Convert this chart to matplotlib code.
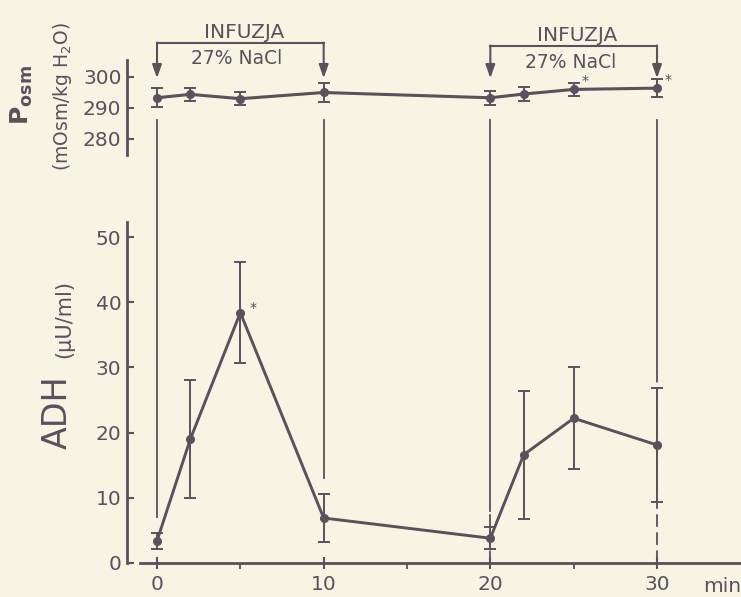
import matplotlib
matplotlib.use("Agg")
import matplotlib.pyplot as plt
import numpy as np

plt.rcParams['font.family'] = ['DejaVu Sans']

# ---- data ----
time_min = [0, 2, 5, 10, 20, 22, 25, 30]
adh_mean = [3.4, 19.0, 38.4, 6.9, 3.8, 16.6, 22.2, 18.1]
adh_err = [1.2, 9.0, 7.8, 3.7, 1.7, 9.8, 7.8, 8.7]
posm_mean = [293.3, 294.4, 293.0, 295.0, 293.3, 294.5, 296.0, 296.4]
posm_err = [3.0, 2.2, 2.0, 3.0, 2.2, 2.2, 2.0, 2.8]
adh_signif = [5]
posm_signif = [25, 30]
infusion_periods = [(0, 10), (20, 30)]
infusion_title = "INFUZJA"
infusion_label = "27% NaCl"
adh_ticks = [0, 10, 20, 30, 40, 50]
posm_ticks = [280, 290, 300]
time_ticks = [0, 10, 20, 30]
time_minor = [5, 15, 25]

BG = "#f7f4e3"
INK = "#57525c"
FS = 14.5

fig = plt.figure(figsize=(7.41, 5.97), dpi=100, facecolor=BG)

# axes geometry in pixels
W, H = 741, 597
x0px, px_per_min = 157, 16.667
left_px = 127
xlim = ((left_px - x0px) / px_per_min, (W - x0px) / px_per_min)

ax = fig.add_axes([left_px / W, (H - 563) / H, (W - left_px) / W, 341 / H])
ax.set_facecolor("none")
ax.set_xlim(*xlim)
ax.set_ylim(0, 341 / 6.52)

axp = fig.add_axes([left_px / W, (H - 155) / H, (W - left_px) / W, 95 / H])
axp.set_facecolor("none")
axp.set_xlim(*xlim)
axp.set_ylim(280 - 16 / 3.1, 300 + 17 / 3.1)

for a in (ax, axp):
    for s in ("top", "right"):
        a.spines[s].set_visible(False)
    a.spines["left"].set_color(INK)
    a.spines["left"].set_linewidth(2.0)
axp.spines["bottom"].set_visible(False)
ax.spines["bottom"].set_color(INK)
ax.spines["bottom"].set_linewidth(2.0)
ax.spines["bottom"].set_bounds(-1.0, xlim[1])

ax.set_yticks(adh_ticks)
ax.set_xticks(time_ticks)
ax.set_xticks(time_minor, minor=True)
ax.tick_params(axis="y", direction="in", length=5, width=1.5, color=INK,
               labelcolor=INK, labelsize=FS, pad=4)
ax.tick_params(axis="x", which="major", direction="inout", length=9, width=1.5,
               color=INK, labelcolor=INK, labelsize=FS, pad=4)
ax.tick_params(axis="x", which="minor", direction="out", length=4, width=1.3,
               color=INK)
axp.set_yticks(posm_ticks)
axp.set_xticks([])
axp.tick_params(axis="y", direction="in", length=5, width=1.5, color=INK,
                labelcolor=INK, labelsize=FS, pad=4)

t = np.array(time_min)
adh_m = np.array(adh_mean)
adh_e = np.array(adh_err)

# vertical guide lines at infusion start/end
ytop_adh = (563 - 120) / 6.52
for (s, e) in infusion_periods:
    for xv in (s, e):
        i = time_min.index(xv)
        ybot = adh_m[i] + adh_e[i] + 2.5
        ax.plot([xv, xv], [ybot, ytop_adh], color=INK, lw=1.3,
                clip_on=False, zorder=2)
for xv in (20, 30):
    i = time_min.index(xv)
    ax.plot([xv, xv], [0, adh_m[i] + adh_e[i] + 2.5], color=INK, lw=1.3,
            ls=(0, (7, 3)), zorder=2)

# ADH series
ax.errorbar(t, adh_m, yerr=adh_e, fmt="o-", color=INK, lw=2.1, ms=5.5,
            elinewidth=1.4, capsize=4, capthick=1.4, zorder=4, clip_on=False)
for xs in adh_signif:
    i = time_min.index(xs)
    ax.annotate("*", (xs, adh_m[i]), xytext=(9, 3), textcoords="offset points",
                color=INK, fontsize=10, ha="center", va="center")

# Posm series
axp.errorbar(t, posm_mean, yerr=posm_err, fmt="o-", color=INK, lw=2.2, ms=5.5,
             elinewidth=1.4, capsize=4, capthick=1.4, zorder=4, clip_on=False)
for xs in posm_signif:
    i = time_min.index(xs)
    axp.annotate("*", (xs, posm_mean[i]), xytext=(8, 6),
                 textcoords="offset points", color=INK, fontsize=10,
                 ha="center", va="center")

# infusion brackets
bracket_y = [311.0, 310.1]
title_y = [314.5, 313.5]
label_y = [306.1, 304.8]
for k, (s, e) in enumerate(infusion_periods):
    yb = bracket_y[k]
    axp.plot([s, e], [yb, yb], color=INK, lw=1.5, clip_on=False)
    for xv in (s, e):
        axp.annotate("", xy=(xv, 299.6), xytext=(xv, yb + 0.1),
                     arrowprops=dict(arrowstyle="-|>,head_length=0.8,head_width=0.28",
                                     color=INK, lw=1.5, shrinkA=0, shrinkB=0),
                     annotation_clip=False)
    axp.text((s + e) / 2 + 0.2, title_y[k], infusion_title, color=INK,
             fontsize=14.5, ha="center", va="center", clip_on=False)
    axp.text((s + e) / 2 - 0.2, label_y[k], infusion_label, color=INK,
             fontsize=13.5, ha="center", va="center", clip_on=False)

# axis labels
fig.text(22 / W, 1 - 95 / H, r"P$_{\mathregular{osm}}$", rotation=90, color=INK,
         fontsize=18, ha="center", va="center", fontweight="bold")
fig.text(63 / W, 1 - 96 / H, r"(mOsm/kg H$_{\mathregular{2}}$O)", rotation=90,
         color=INK, fontsize=13.5, ha="center", va="center")
fig.text(57 / W, 1 - 412 / H, "ADH", rotation=90, color=INK, fontsize=24,
         ha="center", va="center")
fig.text(64 / W, 1 - 319 / H, "(μU/ml)", rotation=90, color=INK, fontsize=15,
         ha="center", va="center")
ax.text((722 - x0px) / px_per_min, -(587 - 563) / 6.52, "min", color=INK,
        fontsize=FS, ha="center", va="center", clip_on=False)

fig.savefig("out.png", dpi=100, facecolor=BG)
